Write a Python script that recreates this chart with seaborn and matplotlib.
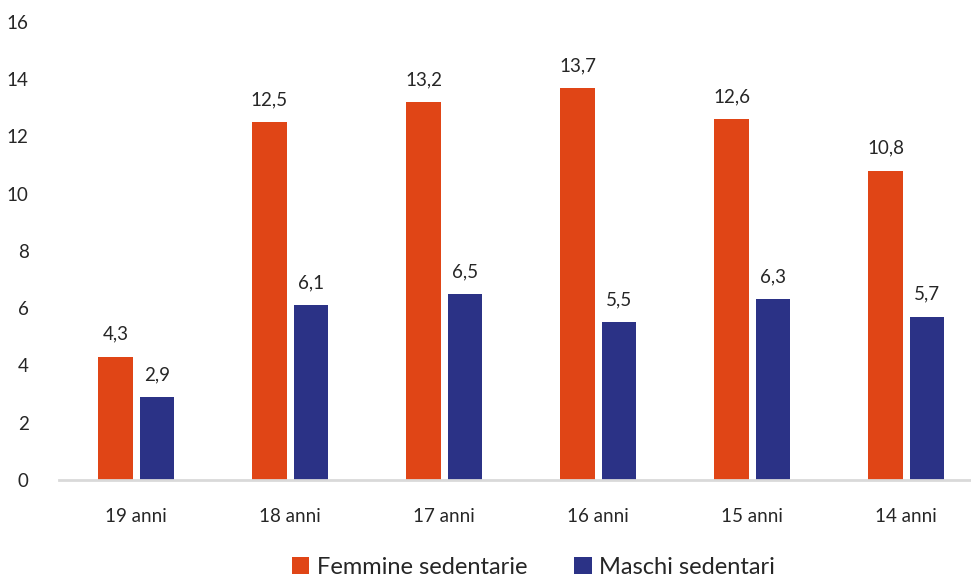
import pandas as pd
import seaborn as sns
import matplotlib.pyplot as plt

## Dati
eta = ['19 anni', '18 anni', '17 anni', '16 anni', '15 anni', '14 anni']
femmine = [4.3, 12.5, 13.2, 13.7, 12.6, 10.8]
maschi = [2.9, 6.1, 6.5, 5.5, 6.3, 5.7]
serie = ['Femmine sedentarie', 'Maschi sedentari']
colori = ['#E04516', '#2B3286']

df = pd.DataFrame({
    'eta': eta * 2,
    'valore': femmine + maschi,
    'serie': [serie[0]] * len(eta) + [serie[1]] * len(eta),
})

sns.set_style('white')
plt.rcParams['font.family'] = ['Lato', 'DejaVu Sans']

fig = plt.figure(figsize=(9.71, 5.78), dpi=100)
ax = fig.add_axes([0.061, 0.17, 0.939, 0.792])

sns.barplot(data=df, x='eta', y='valore', hue='serie', palette=colori,
            width=0.54, gap=0.17, saturation=1, linewidth=0, ax=ax, legend=True)

## Etichette sopra le barre
for cont in ax.containers:
    ax.bar_label(cont, labels=[f'{v:.1f}'.replace('.', ',') for v in cont.datavalues],
                 padding=10, fontsize=13.5, color='#262626')

ax.set_xlim(-0.5, 5.42)
ax.set_ylim(0, 16)
ax.set_yticks(range(0, 17, 2))
ax.set_xlabel('')
ax.set_ylabel('')
ax.tick_params(axis='both', length=0, labelsize=13.5, colors='#262626')
ax.tick_params(axis='x', pad=20)
ax.tick_params(axis='y', pad=22)
for s in ['top', 'right', 'left']:
    ax.spines[s].set_visible(False)
ax.spines['bottom'].set_color('#D9D9D9')
ax.spines['bottom'].set_linewidth(2)

ax.legend(loc='lower center', bbox_to_anchor=(0.52, -0.26), ncol=2, frameon=False,
          fontsize=17, handlelength=0.75, handleheight=0.75, handletextpad=0.3,
          columnspacing=2.0, labelcolor='#262626')

plt.savefig('out.png', dpi=100)
